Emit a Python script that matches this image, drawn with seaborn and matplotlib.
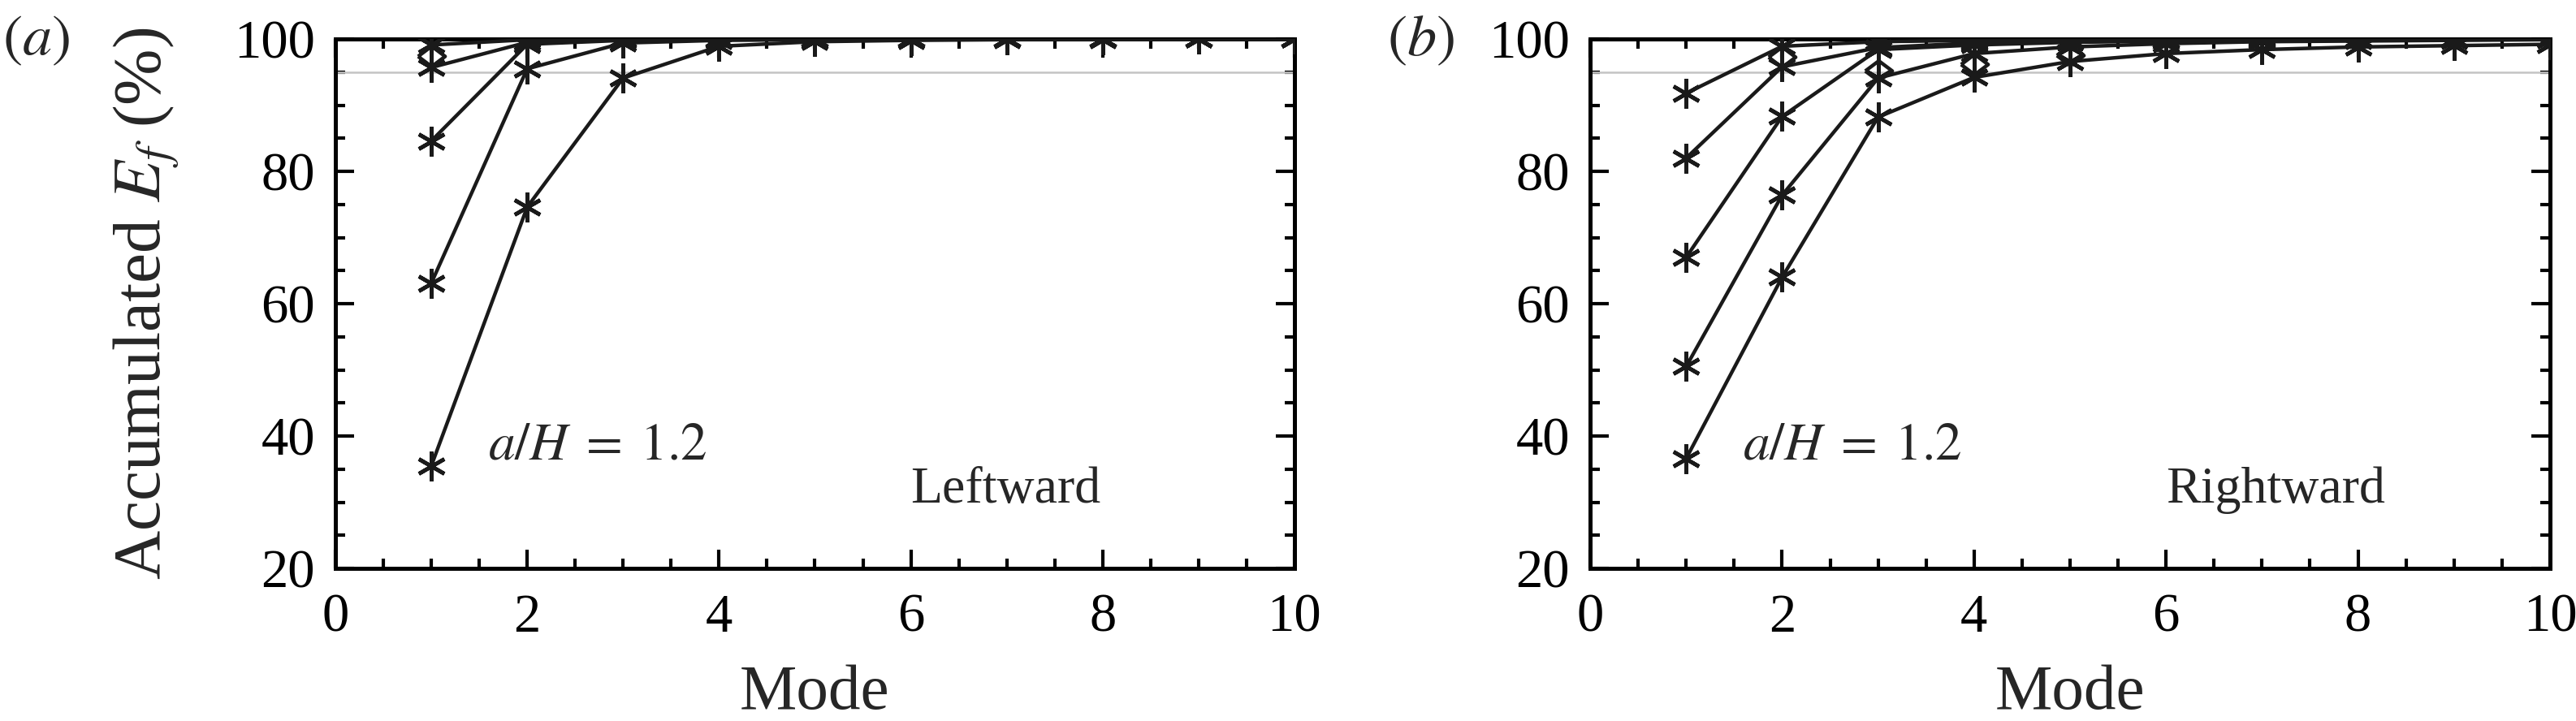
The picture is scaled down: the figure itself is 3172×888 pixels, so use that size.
import matplotlib
matplotlib.use("Agg")
import matplotlib.pyplot as plt
import seaborn as sns
from matplotlib.ticker import MultipleLocator

# ---------------- data ----------------
modes = [1, 2, 3, 4, 5, 6, 7, 8, 9, 10]

# (a) Leftward
left_s1 = [99.1, 99.9, 100.0, 100.0, 100.0, 100.0, 100.0, 100.0, 100.0, 100.0]
left_s2 = [95.7, 99.5, 99.9, 100.0, 100.0, 100.0, 100.0, 100.0, 100.0, 100.0]
left_s3 = [84.6, 99.2, 99.8, 99.9, 100.0, 100.0, 100.0, 100.0, 100.0, 100.0]
left_s4 = [63.1, 95.5, 99.4, 99.8, 99.9, 100.0, 100.0, 100.0, 100.0, 100.0]
left_s5 = [35.5, 74.6, 94.1, 98.9, 99.6, 99.8, 99.9, 99.9, 100.0, 100.0]
left_diamond_modes = [1]
left_diamond_vals = [97.4]

# (b) Rightward
right_s1 = [91.8, 98.9, 99.6, 99.8, 99.9, 99.9, 100.0, 100.0, 100.0, 100.0]
right_s2 = [82.0, 95.8, 98.7, 99.4, 99.7, 99.8, 99.9, 99.9, 100.0, 100.0]
right_s3 = [67.0, 88.3, 98.4, 99.1, 99.5, 99.7, 99.8, 99.9, 99.9, 100.0]
right_s4 = [50.5, 76.4, 94.1, 97.8, 98.8, 99.3, 99.6, 99.7, 99.8, 99.9]
right_s5 = [36.6, 64.0, 88.2, 94.2, 96.6, 97.8, 98.4, 98.8, 99.0, 99.2]
right_diamond_modes = [2, 3, 4, 5]
right_diamond_vals = [97.3, 95.2, 96.2, 97.6]

threshold = 95
xticks = [0, 2, 4, 6, 8, 10]
yticks = [20, 40, 60, 80, 100]

# ---------------- style ----------------
sns.set_theme(style="ticks")
plt.rcParams.update({
    "mathtext.fontset": "stix",
    "axes.linewidth": 1.8,
    "axes.edgecolor": "black",
    "xtick.direction": "in",
    "ytick.direction": "in",
    "xtick.top": True,
    "ytick.right": True,
    "xtick.major.size": 8.3,
    "ytick.major.size": 8.3,
    "xtick.minor.size": 4.3,
    "ytick.minor.size": 4.3,
    "xtick.major.width": 1.5,
    "ytick.major.width": 1.5,
    "xtick.minor.width": 1.5,
    "ytick.minor.width": 1.5,
    "xtick.color": "black",
    "ytick.color": "black",
})
plt.rcParams["font.family"] = ["Liberation Serif", "DejaVu Serif"]

fig = plt.figure(figsize=(15.86, 4.44), dpi=200)
axL = fig.add_axes([0.1302, 0.2117, 0.3723, 0.7342])
axR = fig.add_axes([0.6173, 0.2117, 0.3726, 0.7342])

star = (6, 2, 0)
diamond = [(-1, 0), (0, 0.75), (1, 0), (0, -0.75), (-1, 0)]


def draw(ax, series, dmodes, dvals, word):
    ax.axhline(threshold, color="#c4c4c4", lw=0.9, zorder=1)
    for s in series:
        sns.lineplot(x=modes, y=s, ax=ax, color="k", lw=1.6, marker=star,
                     markersize=13, markeredgecolor="k", markeredgewidth=1.7,
                     errorbar=None, zorder=3)
    sns.lineplot(x=dmodes, y=dvals, ax=ax, color="k", linestyle="none",
                 marker=diamond, markersize=12, markerfacecolor="none",
                 markeredgecolor="k", markeredgewidth=1.6, errorbar=None,
                 zorder=4)
    ax.set_xlim(0, 10)
    ax.set_ylim(20, 100)
    ax.set_xticks(xticks)
    ax.set_yticks(yticks)
    ax.xaxis.set_minor_locator(MultipleLocator(0.5))
    ax.yaxis.set_minor_locator(MultipleLocator(5))
    ax.tick_params(axis="both", which="both", labelsize=24)
    ax.tick_params(axis="x", which="both", pad=11)
    ax.tick_params(axis="y", which="both", pad=9)
    ax.set_xlabel("Mode", fontsize=28.5)
    ax.xaxis.set_label_coords(0.5, -0.181)
    ax.set_ylabel("")
    for sp in ax.spines.values():
        sp.set_visible(True)
        sp.set_linewidth(1.8)
    ax.text(1.59, 36.5, r"$a/H\;=\;1.2$", fontsize=23.5, va="baseline", ha="left")
    ax.text(6.0, 30.0, word, fontsize=23, va="baseline", ha="left")


draw(axL, [left_s1, left_s2, left_s3, left_s4, left_s5],
     left_diamond_modes, left_diamond_vals, "Leftward")
draw(axR, [right_s1, right_s2, right_s3, right_s4, right_s5],
     right_diamond_modes, right_diamond_vals, "Rightward")

axL.set_ylabel(r"Accumulated $E_f$ (%)", fontsize=30)
axL.yaxis.set_label_coords(-0.161, 0.5)

fig.text(0.001, 0.9426, r"$(a)$", fontsize=26, va="center", ha="left")
fig.text(0.5385, 0.9426, r"$(b)$", fontsize=26, va="center", ha="left")

fig.savefig("out.png", dpi=200)
